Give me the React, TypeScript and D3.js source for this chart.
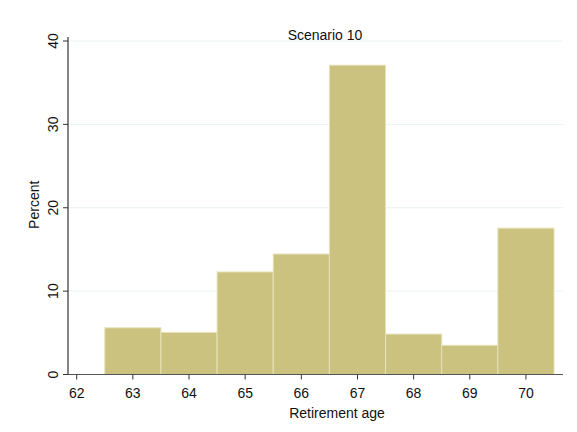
import React from "react";
import * as d3 from "d3";

const ages = [63, 64, 65, 66, 67, 68, 69, 70];
const percents = [5.6, 5.05, 12.3, 14.45, 37.1, 4.85, 3.5, 17.55];
const xTicks = [62, 63, 64, 65, 66, 67, 68, 69, 70];
const yTicks = [0, 10, 20, 30, 40];

const W = 577, H = 432;
const left = 68, right = 563, top = 41, bottom = 374.5;

export default function App() {
  const x = d3.scaleLinear().domain([61.845, 70.66]).range([left, right]);
  const y = d3.scaleLinear().domain([0, 40]).range([bottom, top]);
  const font = "'Liberation Sans', Arial, sans-serif";
  const fs = 14;
  return (
    <svg width={W} height={H} style={{ position: "absolute", left: 0, top: 0, background: "#fff" }}>
      <rect width={W} height={H} fill="#fff" />
      {yTicks.filter(t => t > 0).map(t => (
        <line key={t} x1={left} x2={right} y1={y(t)} y2={y(t)} stroke="#eaf2f3" strokeWidth={1} />
      ))}
      {ages.map((a, i) => (
        <rect key={a} x={x(a - 0.5)} y={y(percents[i])} width={x(a + 0.5) - x(a - 0.5)}
          height={y(0) - y(percents[i])} fill="#cac27e" stroke="#e6e2b8" strokeWidth={1} />
      ))}
      <line x1={left} x2={left} y1={top - 4} y2={bottom} stroke="#333" strokeWidth={1.2} />
      <line x1={left} x2={right} y1={bottom} y2={bottom} stroke="#555" strokeWidth={1.2} />
      {yTicks.map(t => (
        <g key={t}>
          <line x1={left - 5} x2={left} y1={y(t)} y2={y(t)} stroke="#333" />
          <text transform={`translate(${left - 10},${y(t)}) rotate(-90)`} textAnchor="middle"
            fontFamily={font} fontSize={fs} fill="#111">{t}</text>
        </g>
      ))}
      {xTicks.map(t => (
        <g key={t}>
          <line x1={x(t)} x2={x(t)} y1={bottom} y2={bottom + 5} stroke="#333" />
          <text x={x(t)} y={bottom + 23} textAnchor="middle" fontFamily={font} fontSize={fs} fill="#111">{t}</text>
        </g>
      ))}
      <text transform={`translate(39,${y(20) - 3}) rotate(-90)`} textAnchor="middle"
        fontFamily={font} fontSize={fs} fill="#111">Percent</text>
      <text x={337} y={418} textAnchor="middle" fontFamily={font} fontSize={fs} fill="#111">Retirement age</text>
      <text x={325} y={40} textAnchor="middle" fontFamily={font} fontSize={fs} fill="#111">Scenario 10</text>
    </svg>
  );
}
